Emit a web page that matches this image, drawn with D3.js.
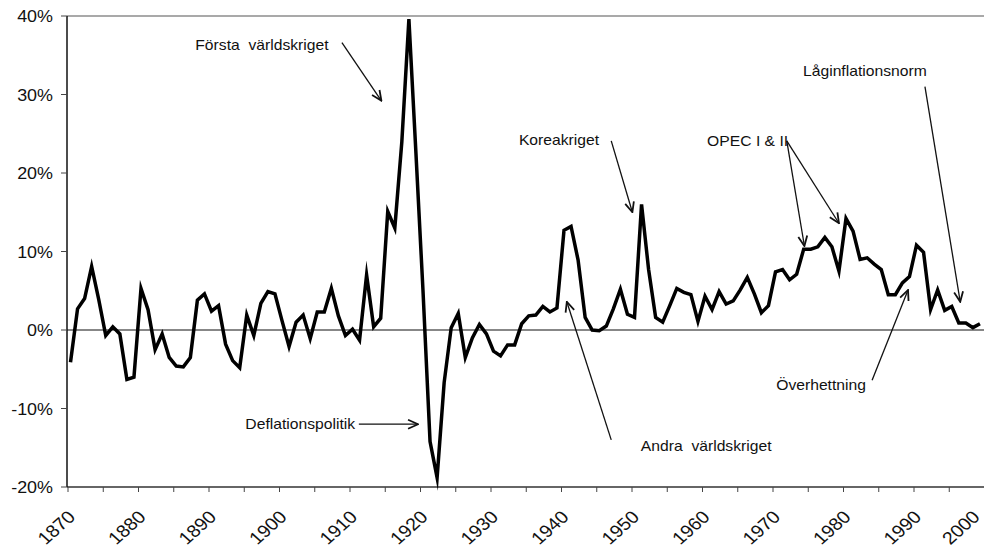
<!DOCTYPE html>
<html>
<head>
<meta charset="utf-8">
<script src="https://cdn.jsdelivr.net/npm/d3@7"></script>
<style>
	body{margin:0;background:#fff;}
	text{font-family:"Liberation Sans",Arial,Helvetica,sans-serif;fill:#111;}
</style>
</head>
<body>
<div id="canvas" style="width:984px;height:547px;"></div>
<script>
// årlig inflation i Sverige, 1870-1999 (procent)
var years = d3.range(1870, 2000);
var inflation = [
	-4.1, 2.7, 4.0, 8.1, 3.9, -0.7, 0.4, -0.5, -6.3, -6.0,
	5.3, 2.6, -2.5, -0.5, -3.5, -4.6, -4.7, -3.5, 3.8, 4.6,
	2.4, 3.1, -1.8, -3.9, -4.8, 1.9, -0.7, 3.4, 4.9, 4.6,
	1.2, -2.1, 1.0, 1.9, -1.1, 2.3, 2.3, 5.3, 1.8, -0.7,
	0.1, -1.3, 7.0, 0.4, 1.5, 15.1, 13.0, 24.0, 39.6, 22.5,
	5.0, -14.2, -18.8, -6.7, 0.3, 2.1, -3.5, -1.0, 0.7, -0.5,
	-2.7, -3.3, -1.9, -1.9, 0.8, 1.8, 1.9, 3.0, 2.3, 2.8,
	12.7, 13.2, 8.9, 1.6, 0.0, -0.1, 0.5, 2.7, 5.2, 2.0,
	1.6, 16.0, 7.7, 1.6, 1.0, 3.1, 5.3, 4.8, 4.5, 1.1,
	4.3, 2.6, 4.9, 3.3, 3.7, 5.1, 6.7, 4.6, 2.2, 3.1,
	7.4, 7.7, 6.4, 7.1, 10.3, 10.3, 10.6, 11.8, 10.6, 7.5,
	14.2, 12.6, 9.0, 9.2, 8.4, 7.7, 4.5, 4.5, 6.0, 6.8,
	10.8, 9.9, 2.6, 5.1, 2.5, 3.0, 0.9, 0.9, 0.3, 0.8
];
var yTicks = [-20, -10, 0, 10, 20, 30, 40];
var xTickYears = d3.range(1870, 2001, 5);
var xLabelYears = d3.range(1870, 2001, 10);

// händelser: text och var pilen pekar (år, procent)
var eventLabels = ["Första  världskriget", "Deflationspolitik", "Koreakriget", "Andra  världskriget",
	"OPEC I & II", "Låginflationsnorm", "Överhettning"];
var eventTextAt = [[1887.7, 35.7], [1894.8, -12.6], [1933.6, 23.6], [1950.9, -15.4],
	[1960.3, 23.4], [1973.9, 32.4], [1970.1, -7.6]];
var eventArrows = [
	[[1908.5, 36.6], [1914.1, 29.2]],
	[[1910.9, -12.0], [1919.3, -12.0]],
	[[1946.7, 24.1], [1949.7, 15.0]],
	[[1946.7, -14.0], [1940.4, 3.6]],
	[[1971.6, 24.1], [1974.1, 10.7]],
	[[1971.6, 24.1], [1979.0, 13.6]],
	[[1991.2, 31.0], [1996.2, 3.6]],
	[[1983.7, -6.4], [1988.8, 5.1]]
];

var STRETCH = 1.12;
var w = 984, h = 547;

var svg = d3.select("#canvas")
	.append("svg")
	.attr("width", w)
	.attr("height", h);

var xScale = d3.scaleLinear()
	.domain([1870, 2000])
	.range([70.5, 987]);

var yScale = d3.scaleLinear()
	.domain([-20, 40])
	.range([487, 16]);

var defs = svg.append("defs");
defs.append("marker")
	.attr("id", "head")
	.attr("viewBox", "0 0 12 12")
	.attr("refX", 11)
	.attr("refY", 6)
	.attr("markerWidth", 12)
	.attr("markerHeight", 12)
	.attr("markerUnits", "userSpaceOnUse")
	.attr("orient", "auto")
	.append("path")
	.attr("d", "M1,1.5 L11,6 L1,10.5")
	.attr("fill", "none")
	.attr("stroke", "#111")
	.attr("stroke-width", 1.8);

// ram
svg.append("line")
	.attr("x1", 67).attr("x2", w)
	.attr("y1", yScale(40)).attr("y2", yScale(40))
	.attr("stroke", "#555")
	.attr("stroke-width", 1.2);
svg.append("line")
	.attr("x1", 67).attr("x2", w)
	.attr("y1", yScale(-20)).attr("y2", yScale(-20))
	.attr("stroke", "#333")
	.attr("stroke-width", 1.5);
svg.append("line")
	.attr("x1", 67).attr("x2", 67)
	.attr("y1", yScale(40)).attr("y2", yScale(-20))
	.attr("stroke", "#111")
	.attr("stroke-width", 1.5);
svg.append("line")
	.attr("x1", 67).attr("x2", w)
	.attr("y1", yScale(0)).attr("y2", yScale(0))
	.attr("stroke", "#111")
	.attr("stroke-width", 1.2);

// y-axel
var yAxis = svg.append("g");
yTicks.forEach(function(t){
	yAxis.append("line")
		.attr("x1", 61).attr("x2", 67)
		.attr("y1", yScale(t)).attr("y2", yScale(t))
		.attr("stroke", "#444")
		.attr("stroke-width", 1);
	yAxis.append("text")
		.attr("transform", "translate(53," + (yScale(t) + 6) + ") scale(" + STRETCH + ",1)")
		.attr("text-anchor", "end")
		.attr("font-size", 16)
		.text(t + "%");
});

// x-axel
var xAxis = svg.append("g");
xTickYears.forEach(function(t){
	xAxis.append("line")
		.attr("x1", xScale(t) - 2.5).attr("x2", xScale(t) - 2.5)
		.attr("y1", 487).attr("y2", 492)
		.attr("stroke", "#444")
		.attr("stroke-width", 1);
});
xLabelYears.forEach(function(t){
	// sista etiketten får plats innanför kanten
	var lx = Math.min(xScale(t) + 6, w - 3);
	xAxis.append("text")
		.attr("transform", "translate(" + lx + ",518) scale(" + STRETCH + ",1) rotate(-45)")
		.attr("text-anchor", "end")
		.attr("font-size", 17.5)
		.text(t);
});

// inflationslinjen
var line = d3.line()
	.x(function(d, i){ return xScale(years[i]); })
	.y(function(d){ return yScale(d); });

svg.append("path")
	.datum(inflation)
	.attr("d", line)
	.attr("fill", "none")
	.attr("stroke", "#000")
	.attr("stroke-width", 3.5)
	.attr("stroke-linejoin", "miter")
	.attr("stroke-miterlimit", 10);

// kommentarer
eventLabels.forEach(function(label, i){
	var p = eventTextAt[i];
	svg.append("text")
		.attr("transform", "translate(" + xScale(p[0]) + "," + yScale(p[1]) + ") scale(" + STRETCH + ",1)")
		.attr("font-size", 14)
		.attr("xml:space", "preserve")
		.style("white-space", "pre")
		.text(label);
});
eventArrows.forEach(function(a){
	svg.append("line")
		.attr("x1", xScale(a[0][0])).attr("y1", yScale(a[0][1]))
		.attr("x2", xScale(a[1][0])).attr("y2", yScale(a[1][1]))
		.attr("stroke", "#111")
		.attr("stroke-width", 1.3)
		.attr("marker-end", "url(#head)");
});
</script>
</body>
</html>
